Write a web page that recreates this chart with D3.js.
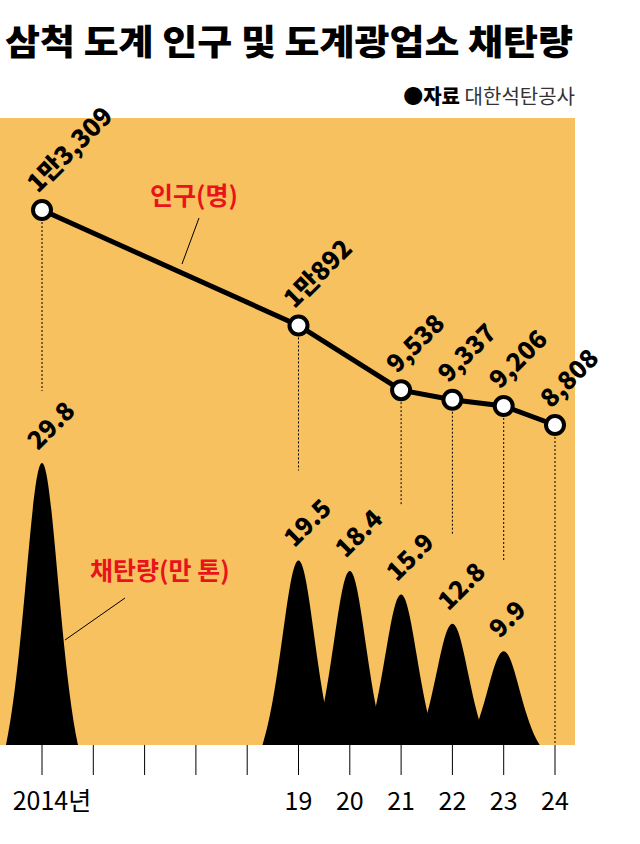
<!DOCTYPE html><html><head><meta charset="utf-8"><script src="https://cdn.jsdelivr.net/npm/d3@7"></script>
<style>body{margin:0;background:#fff}text{font-family:"Noto Sans CJK KR","Noto Sans",sans-serif}</style></head><body>
<svg id="c" width="640" height="844"></svg>
<script>
const years=[2014,2015,2016,2017,2018,2019,2020,2021,2022,2023,2024];
const popYears=[2014,2019,2021,2022,2023,2024];
const popVals=[13309,10892,9538,9337,9206,8808];
const popLabels=["1만3,309","1만892","9,538","9,337","9,206","8,808"];
const coalYears=[2014,2019,2020,2021,2022,2023];
const coalVals=[29.8,19.5,18.4,15.9,12.8,9.9];
const tickLabels={2014:"2014년",2019:"19",2020:"20",2021:"21",2022:"22",2023:"23",2024:"24"};
const svg=d3.select("#c");
const x=d3.scaleLinear().domain([2014,2024]).range([42,555]);
const yp=d3.scaleLinear().domain([8808,13309]).range([425,210]);
const yc=d3.scaleLinear().domain([0,29.8]).range([745,463]);
svg.append("text").attr("x",5).attr("y",55).attr("font-size",35).attr("font-weight",900).attr("textLength",568).attr("lengthAdjust","spacingAndGlyphs").text("삼척 도계 인구 및 도계광업소 채탄량");
const src=svg.append("text").attr("x",575).attr("y",104).attr("text-anchor","end").attr("font-size",20);
src.append("tspan").attr("font-weight",900).text("●자료 ");src.append("tspan").attr("fill","#333").text("대한석탄공사");
svg.append("rect").attr("x",0).attr("y",118).attr("width",575).attr("height",627).attr("fill","#f7c15f");
const hw=36;
coalYears.forEach((yr,i)=>{
 const cx=x(yr),b=yc(0),t=yc(coalVals[i]);
 const p=d3.path();p.moveTo(cx-hw,b);
 p.bezierCurveTo(cx-hw*0.5,b-(b-t)*0.3,cx-hw*0.3,t,cx,t);
 p.bezierCurveTo(cx+hw*0.3,t,cx+hw*0.5,b-(b-t)*0.3,cx+hw,b);p.closePath();
 svg.append("path").attr("d",p.toString()).attr("fill","#000");
});
popYears.forEach((yr,i)=>{
 const ci=coalYears.indexOf(yr);
 const end=ci>=0?yc(coalVals[ci])-(i==0?72:90):745;
 svg.append("line").attr("x1",x(yr)).attr("x2",x(yr)).attr("y1",yp(popVals[i])).attr("y2",end).attr("stroke","#000").attr("stroke-dasharray","2,2").attr("stroke-width",1);
});
svg.append("path").datum(popYears.map((d,i)=>[x(d),yp(popVals[i])])).attr("d",d3.line()).attr("fill","none").attr("stroke","#000").attr("stroke-width",5);
popYears.forEach((yr,i)=>{
 svg.append("circle").attr("cx",x(yr)).attr("cy",yp(popVals[i])).attr("r",9).attr("fill","#fff").attr("stroke","#000").attr("stroke-width",4);
 svg.append("text").attr("transform",`translate(${x(yr)-4},${yp(popVals[i])-16}) rotate(-45)`).attr("font-size",25).attr("font-weight",900).attr("font-family","Roboto, 'Noto Sans CJK KR'").text(popLabels[i]);
});
coalYears.forEach((yr,i)=>{
 svg.append("text").attr("transform",`translate(${x(yr)-4},${yc(coalVals[i])-12}) rotate(-45)`).attr("font-size",25).attr("font-weight",900).attr("font-family","Roboto").text(coalVals[i].toFixed(1));
});
svg.append("text").attr("x",150).attr("y",205).attr("fill","#e8131b").attr("font-size",25).attr("font-weight",700).text("인구(명)");
svg.append("line").attr("x1",182).attr("y1",264).attr("x2",199).attr("y2",218).attr("stroke","#000");
svg.append("text").attr("x",90).attr("y",580).attr("fill","#e8131b").attr("font-size",25).attr("font-weight",700).text("채탄량(만 톤)");
svg.append("line").attr("x1",65).attr("y1",640).attr("x2",125).attr("y2",598).attr("stroke","#000");
years.forEach(yr=>{
 svg.append("line").attr("x1",x(yr)).attr("x2",x(yr)).attr("y1",745).attr("y2",775).attr("stroke","#000").attr("stroke-width",1);
 if(tickLabels[yr])svg.append("text").attr("x",yr==2014?x(yr)+10:x(yr)).attr("y",810).attr("text-anchor","middle").attr("font-size",25).text(tickLabels[yr]);
});
</script></body></html>
